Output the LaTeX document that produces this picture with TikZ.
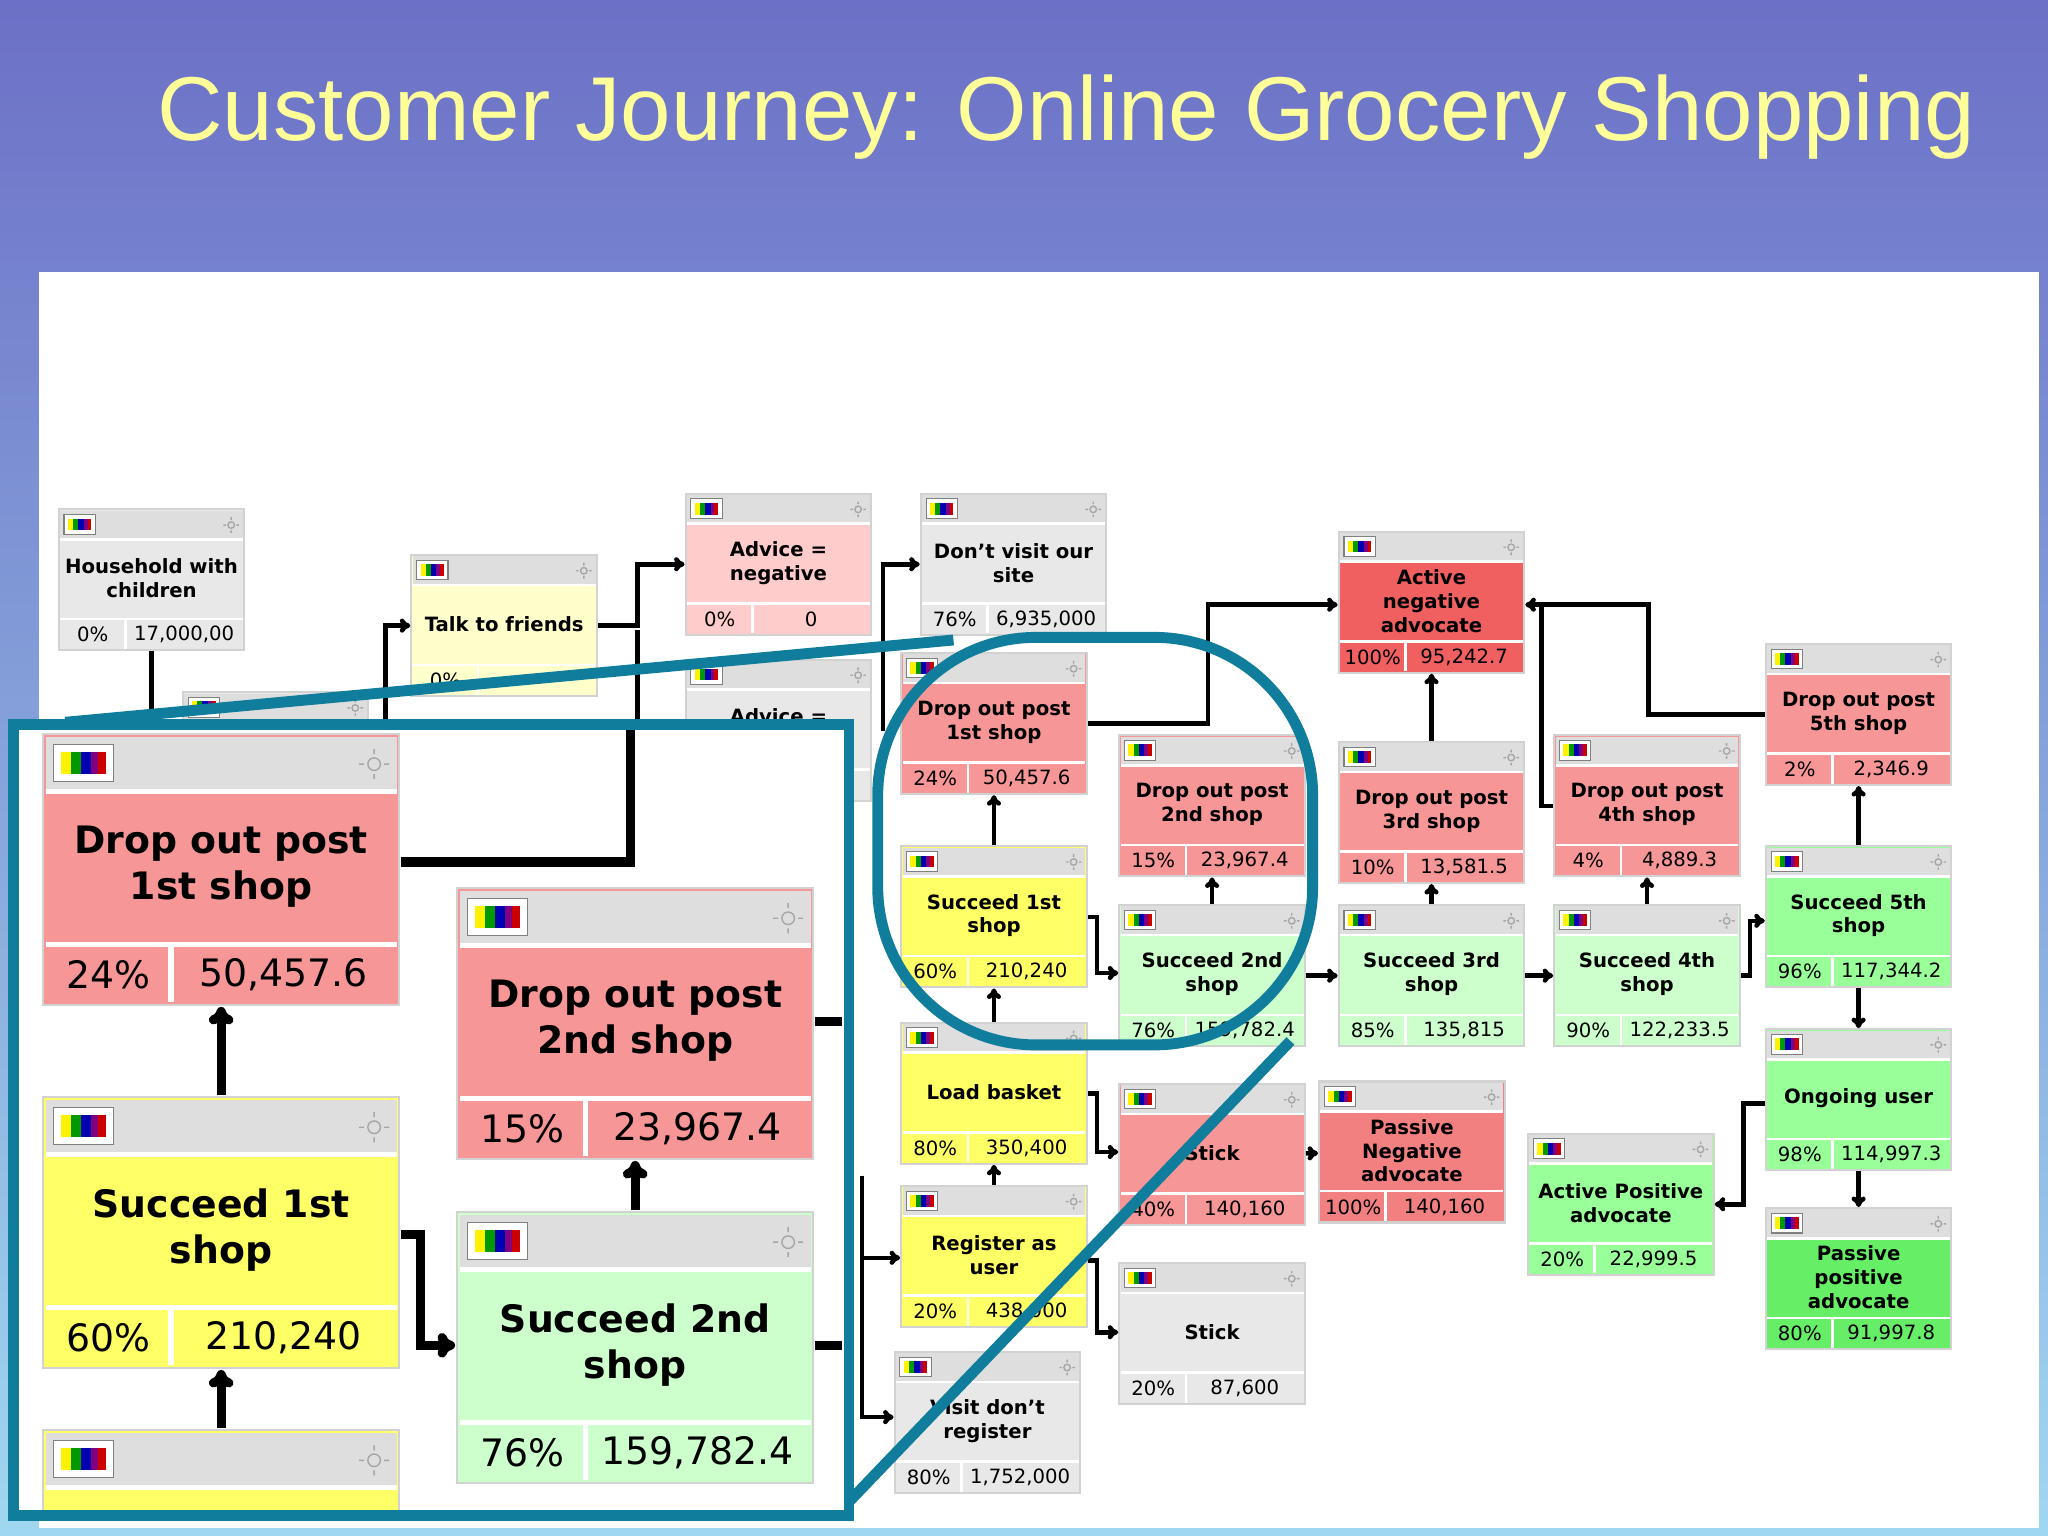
\documentclass[tikz,border=0pt]{standalone}
\usepackage{fontspec}
\setmainfont{DejaVu Sans}
\newfontfamily\titlefont{Liberation Sans}
\usetikzlibrary{arrows.meta}
\definecolor{greyc}{RGB}{232,232,232}
\definecolor{headc}{RGB}{222,222,222}
\definecolor{dropc}{RGB}{247,150,150}
\definecolor{advc}{RGB}{255,204,204}
\definecolor{yelc}{RGB}{255,255,102}
\definecolor{lgreenc}{RGB}{204,255,204}
\definecolor{greenc}{RGB}{153,255,153}
\definecolor{ppc}{RGB}{102,238,102}
\definecolor{anegc}{RGB}{240,96,96}
\definecolor{pnegc}{RGB}{242,128,128}
\definecolor{talkc}{RGB}{255,255,204}
\definecolor{tealc}{RGB}{16,125,156}
\definecolor{titlec}{RGB}{255,255,153}
\tikzset{
  jbase/.style={draw=gray!35, line width=0.6pt, minimum width=1.855cm, minimum height=1.41cm, inner sep=0pt},
  jtitle/.style={font=\fontsize{5.6}{6.8}\selectfont\bfseries, align=center, inner sep=0pt},
  jnum/.style={font=\fontsize{5.6}{6.5}\selectfont, inner sep=0pt},
  link/.style={draw=black, line width=1.3pt, -{To[length=3pt,width=4pt]}},
  biglink/.style={draw=black, line width=2.6pt, -{To[length=5pt,width=7pt]}},
  plain/.style={draw=black, line width=1.3pt},
  bigplain/.style={draw=black, line width=2.6pt},
  teal/.style={draw=tealc, line width=3.1pt}
}
% name, x, y, scale, colour, title, pct, value
\newcommand\jbox[8]{%
  \begin{scope}[shift={(#2,#3)}, scale=#4, transform shape]
    \node[jbase, fill=#5] (#1) at (71,54) {};
    \fill[headc] (1,1) rectangle (141,22);
    \fill[white] (1,22) rectangle (141,24);
    \fill[white] (1,83) rectangle (141,85);
    \fill[white] (50,85) rectangle (52,107);
    \draw[gray, fill=white, line width=0.3pt] (4,4) rectangle (28,19);
    \fill[yellow] (7,7) rectangle (11,16);
    \fill[green!60!black] (11,7) rectangle (15,16);
    \fill[blue!70!black] (15,7) rectangle (19,16);
    \fill[violet] (19,7) rectangle (22,16);
    \fill[red!80!black] (22,7) rectangle (25,16);
    \draw[gray!70, line width=0.4pt] (132,12) circle (2.5) (126,12) -- (128,12) (136,12) -- (138,12) (132,6) -- (132,8) (132,16) -- (132,18);
    \node[jtitle] at (71,53) {#6};
    \node[jnum] at (26,96) {#7};
    \node[jnum] at (96,96) {#8};
  \end{scope}}
\begin{document}
\begin{tikzpicture}[x=0.01306cm, y=-0.01306cm, >=To]
\useasboundingbox (0,0) rectangle (1568,1176);
% background
\shade[top color={rgb,255:red,108;green,112;blue,198}, bottom color={rgb,255:red,160;green,215;blue,240}] (0,0) rectangle (1568,1176);
\node[text=titlec, font=\titlefont\fontsize{25.8}{32}\selectfont, anchor=west, inner sep=0pt] (title) at (120,90) {Customer Journey: Online Grocery Shopping};
\fill[white] (30,208) rectangle (1561,1170);

% small nodes
\jbox{house}{45}{390}{1}{greyc}{Household with\\children}{0\%}{17,000,00}
\jbox{hidden}{140}{530}{1}{greyc}{}{}{}
\jbox{talk}{315}{425}{1}{talkc}{Talk to friends}{0\%}{}
\jbox{advneg}{525}{378}{1}{advc}{Advice =\\negative}{0\%}{0}
\jbox{advtwo}{525}{505}{1}{greyc}{}{}{}
\node[jtitle] (advtwotext) at (596,548) {Advice =};
\jbox{novisit}{705}{378}{1}{greyc}{Don't visit our\\site}{76\%}{6,935,000}
\jbox{dropa}{690}{500}{1}{dropc}{Drop out post\\1st shop}{24\%}{50,457.6}
\jbox{succa}{690}{648}{1}{yelc}{Succeed 1st\\shop}{60\%}{210,240}
\jbox{load}{690}{783}{1}{yelc}{Load basket}{80\%}{350,400}
\jbox{reg}{690}{908}{1}{yelc}{Register as\\user}{20\%}{438,000}
\jbox{visitnr}{685}{1035}{1}{greyc}{Visit don't\\register}{80\%}{1,752,000}
\jbox{dropb}{857}{563}{1}{dropc}{Drop out post\\2nd shop}{15\%}{23,967.4}
\jbox{succb}{857}{693}{1}{lgreenc}{Succeed 2nd\\shop}{76\%}{159,782.4}
\jbox{stickp}{857}{830}{1}{dropc}{Stick}{40\%}{140,160}
\jbox{stickg}{857}{967}{1}{greyc}{Stick}{20\%}{87,600}
\jbox{pneg}{1010}{828}{1}{pnegc}{Passive\\Negative\\advocate}{100\%}{140,160}
\jbox{aneg}{1025}{407}{1}{anegc}{Active\\negative\\advocate}{100\%}{95,242.7}
\jbox{dropc}{1025}{568}{1}{dropc}{Drop out post\\3rd shop}{10\%}{13,581.5}
\jbox{succc}{1025}{693}{1}{lgreenc}{Succeed 3rd\\shop}{85\%}{135,815}
\jbox{dropd}{1190}{563}{1}{dropc}{Drop out post\\4th shop}{4\%}{4,889.3}
\jbox{succd}{1190}{693}{1}{lgreenc}{Succeed 4th\\shop}{90\%}{122,233.5}
\jbox{drope}{1352}{493}{1}{dropc}{Drop out post\\5th shop}{2\%}{2,346.9}
\jbox{succe}{1352}{648}{1}{greenc}{Succeed 5th\\shop}{96\%}{117,344.2}
\jbox{ongoing}{1352}{788}{1}{greenc}{Ongoing user}{98\%}{114,997.3}
\jbox{ppos}{1352}{925}{1}{ppc}{Passive\\positive\\advocate}{80\%}{91,997.8}
\jbox{apos}{1170}{868}{1}{greenc}{Active Positive\\advocate}{20\%}{22,999.5}

% small connectors
\coordinate (hfoot) at (117,560);
\coordinate (tfoot) at (295,560);
\coordinate (vfoot) at (676,560);
\coordinate (rfoot) at (660,900);
\draw[plain] (house) -- (house |- hfoot);
\draw[link] (tfoot) |- (talk);
\draw[link] (talk.east) -| (488,432) -- (advneg.west |- 0,432);
\draw[plain] (488,482) -- (488,560);
\draw[link] (vfoot) |- (novisit);
\draw[link] (dropa.east) -| (925,463) -- (aneg.west |- 0,463);
\draw[link] (succa) -- (dropa);
\draw[link] (load) -- (succa);
\draw[link] (reg) -- (load);
\draw[link] (succa.east) -| (840,745) -- (succb.west |- 0,745);
\draw[link] (load.east) -| (840,882) -- (stickp.west |- 0,882);
\draw[link] (reg.east |- 0,965) -| (840,1020) -- (stickg.west |- 0,1020);
\draw[link] (rfoot) |- (reg.west |- 0,963);
\draw[link] (rfoot) |- (visitnr.west |- 0,1085);
\draw[link] (succb) -- (dropb);
\draw[link] (succb) -- (succc);
\draw[link] (stickp) -- (pneg);
\draw[link] (succc) -- (dropc);
\draw[link] (dropc) -- (aneg);
\draw[link] (succc) -- (succd);
\draw[link] (succd) -- (dropd);
\draw[link] (dropd.west) -| (1180,463) -- (aneg.east |- 0,463);
\draw[plain] (drope.west) -| (1262,463) -- (1180,463);
\draw[link] (succd.east) -| (1340,705) -- (succe.west |- 0,705);
\draw[link] (succe) -- (drope);
\draw[link] (succe) -- (ongoing);
\draw[link] (ongoing) -- (ppos);
\draw[link] (ongoing.west |- 0,845) -| (1335,922) -- (apos.east |- 0,922);

% highlight and zoom lines
\draw[teal, rounded corners=45] (672,488) rectangle (1005,800);
\draw[teal] (50,553) -- (730,490);
\draw[teal] (645,1155) -- (988,797);

% zoomed inset
\fill[white] (10,555) rectangle (650,1160);
\begin{scope}
  \clip (10,555) rectangle (650,1160);
  \jbox{bigdropa}{33}{562}{1.92}{dropc}{Drop out post\\1st shop}{24\%}{50,457.6}
  \jbox{bigdropb}{350}{680}{1.92}{dropc}{Drop out post\\2nd shop}{15\%}{23,967.4}
  \jbox{bigsucca}{33}{840}{1.92}{yelc}{Succeed 1st\\shop}{60\%}{210,240}
  \jbox{bigsuccb}{350}{928}{1.92}{lgreenc}{Succeed 2nd\\shop}{76\%}{159,782.4}
  \jbox{bigload}{33}{1095}{1.92}{yelc}{}{}{}
  \coordinate (bigtop) at (483,550);
  \coordinate (bigra) at (645,782);
  \coordinate (bigrb) at (645,1030);
  \draw[bigplain] (bigdropa.east |- 0,660) -| (bigtop);
  \draw[biglink] (bigsucca) -- (bigdropa);
  \draw[biglink] (bigload) -- (bigsucca);
  \draw[biglink] (bigsucca.east |- 0,945) -| (322,1030) -- (bigsuccb.west |- 0,1030);
  \draw[biglink] (bigsuccb) -- (bigdropb);
  \draw[bigplain] (bigdropb.east |- bigra) -- (bigra);
  \draw[bigplain] (bigsuccb.east |- bigrb) -- (bigrb);
\end{scope}
\draw[teal] (10,555) rectangle (650,1160);
\end{tikzpicture}
\end{document}
